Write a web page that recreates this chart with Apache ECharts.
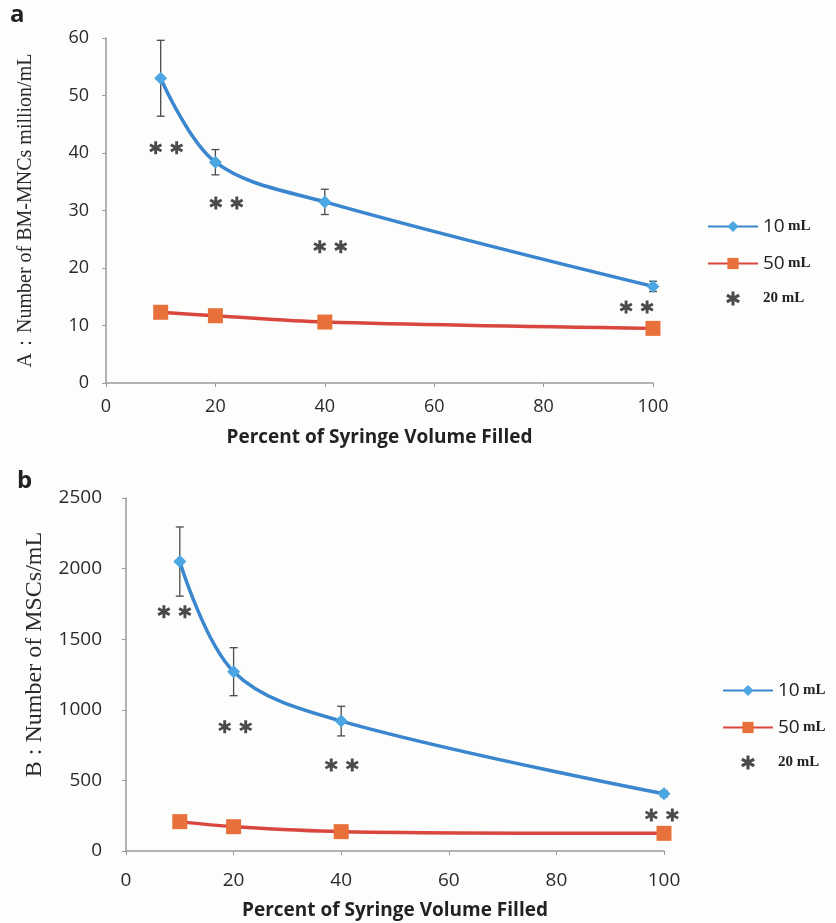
<!DOCTYPE html>
<html>
<head>
<meta charset="utf-8">
<script src="https://cdn.jsdelivr.net/npm/echarts@6/dist/echarts.min.js"></script>
<style>
  html, body { margin: 0; padding: 0; background: #fdfdfb; }
  #chart { width: 836px; height: 923px; }
</style>
</head>
<body>
<div id="chart"></div>
<script>
// x positions (percent of syringe volume filled)
const percentFilled = [10, 20, 40, 100]

// panel a: BM-MNCs million/mL
const mncs10 = [53, 38.4, 31.5, 16.8]
const mncs10Err = [6.6, 2.2, 2.2, 0.9]
const mncs50 = [12.3, 11.7, 10.6, 9.5]
const mncsStars = [[11, 40.9], [22, 31.3], [41, 23.7], [97, 13.2]]

// panel b: MSCs/mL
const mscs10 = [2050, 1270, 920, 405]
const mscs10Err = [245, 170, 105, 20]
const mscs50 = [208, 172, 137, 125]
const mscsStars = [[9, 1695], [20.3, 880], [40.1, 609], [99.6, 255]]

const BLUE_LINE = '#3a86cf'
const BLUE_MARK = '#4ba6e2'
const RED_LINE = '#d8463d'
const RED_MARK = '#e8703a'

// single asterisk, and two side by side
const STAR = 'M3.9,0L6.1,0L6.1,10L3.9,10Z M0.05,3.55L1.15,1.65L9.95,6.45L8.85,8.35Z M8.85,1.65L9.95,3.55L1.15,8.35L0.05,6.45Z'
const STAR2 = STAR + ' M19.9,0L22.1,0L22.1,10L19.9,10Z M16.05,3.55L17.15,1.65L25.95,6.45L24.85,8.35Z M24.85,1.65L25.95,3.55L17.15,8.35L16.05,6.45Z'

const pairs = (xs, ys) => xs.map((x, i) => [x, ys[i]])
const errRows = (xs, ys, es) => xs.map((x, i) => [x, ys[i] - es[i], ys[i] + es[i]])

function errorBar(params, api) {
  const low = api.coord([api.value(0), api.value(1)])
  const high = api.coord([api.value(0), api.value(2)])
  const cap = 4
  const style = { stroke: '#4a4a4a', lineWidth: 1.3 }
  return {
    type: 'group',
    children: [
      { type: 'line', shape: { x1: low[0], y1: low[1], x2: high[0], y2: high[1] }, style },
      { type: 'line', shape: { x1: low[0] - cap, y1: low[1], x2: low[0] + cap, y2: low[1] }, style },
      { type: 'line', shape: { x1: high[0] - cap, y1: high[1], x2: high[0] + cap, y2: high[1] }, style }
    ]
  }
}

function xAxisFor(gridIndex, labelSize, labelMargin, nameGap) {
  return {
    type: 'value', gridIndex, min: 0, max: 100, interval: 20,
    name: 'Percent of Syringe Volume Filled', nameLocation: 'middle', nameGap,
    nameTextStyle: { fontFamily: 'Open Sans', fontWeight: 'bold', fontSize: 19, color: '#222' },
    axisLine: { lineStyle: { color: '#9a9a9a', width: 1.5 } },
    axisTick: { show: true, length: 4, lineStyle: { color: '#9a9a9a' } },
    axisLabel: { fontFamily: 'Open Sans', fontSize: labelSize, color: '#2a2a2a', margin: labelMargin },
    splitLine: { show: false }
  }
}

function yAxisFor(gridIndex, max, interval, name, nameSize, nameGap, namePad, labelSize, labelMargin) {
  return {
    type: 'value', gridIndex, min: 0, max, interval,
    name, nameLocation: 'middle', nameGap,
    nameTextStyle: { fontFamily: 'Liberation Serif', fontSize: nameSize, color: '#2a2a2a', padding: [0, 0, 0, namePad] },
    axisLine: { show: true, lineStyle: { color: '#9a9a9a', width: 1.5 } },
    axisTick: { show: true, length: 4, lineStyle: { color: '#9a9a9a' } },
    axisLabel: {
      fontFamily: 'Open Sans', fontSize: labelSize, color: '#2a2a2a', margin: labelMargin,
      formatter: v => String(v)
    },
    splitLine: { show: false }
  }
}

function seriesFor(idx, v10, e10, v50, stars) {
  return [
    {
      name: '10 mL', type: 'line', xAxisIndex: idx, yAxisIndex: idx,
      data: pairs(percentFilled, v10), smooth: 0.35,
      symbol: 'diamond', symbolSize: 13,
      lineStyle: { color: BLUE_LINE, width: 3.5 },
      itemStyle: { color: BLUE_MARK }, z: 3
    },
    {
      name: '50 mL', type: 'line', xAxisIndex: idx, yAxisIndex: idx,
      data: pairs(percentFilled, v50), smooth: 0.35,
      symbol: 'rect', symbolSize: 15,
      lineStyle: { color: RED_LINE, width: 3.5 },
      itemStyle: { color: RED_MARK }, z: 3
    },
    {
      type: 'custom', xAxisIndex: idx, yAxisIndex: idx,
      data: errRows(percentFilled, v10, e10), renderItem: errorBar, z: 2,
      silent: true
    },
    {
      name: '20 mL', type: 'scatter', xAxisIndex: idx, yAxisIndex: idx,
      data: stars, symbol: 'path://' + STAR2, symbolSize: [34, 13],
      itemStyle: { color: '#1e1e1e' }, silent: true
    }
  ]
}

function legendFor(left, top) {
  return {
    orient: 'vertical', left, top, itemGap: 18, itemWidth: 50, itemHeight: 14,
    data: ['10 mL', '50 mL', { name: '20 mL', icon: 'path://' + STAR }],
    formatter: name => name === '20 mL'
      ? '{s|20 mL}'
      : '{n|' + name.split(' ')[0] + '} {u|mL}',
    textStyle: {
      rich: {
        n: { fontFamily: 'Open Sans', fontSize: 19, color: '#222' },
        u: { fontFamily: 'Liberation Serif', fontWeight: 'bold', fontSize: 15, color: '#222' },
        s: { fontFamily: 'Liberation Serif', fontWeight: 'bold', fontSize: 15, color: '#222' }
      }
    }
  }
}

const chart = echarts.init(document.getElementById('chart'))
chart.setOption({
  backgroundColor: '#fdfdfb',
  animation: false,
  title: [
    { text: 'a', left: 5, top: -2, textStyle: { fontFamily: 'Open Sans', fontWeight: 'bold', fontSize: 24, color: '#222' } },
    { text: 'b', left: 12, top: 464, textStyle: { fontFamily: 'Open Sans', fontWeight: 'bold', fontSize: 24, color: '#222' } }
  ],
  legend: [legendFor(702, 212), legendFor(717, 676)],
  grid: [
    { left: 106, top: 38, width: 547, height: 345 },
    { left: 126, top: 498, width: 538, height: 353 }
  ],
  xAxis: [xAxisFor(0, 18, 15, 45), xAxisFor(1, 19, 20, 50)],
  yAxis: [
    yAxisFor(0, 60, 10, 'A：Number of BM-MNCs million/mL', 20, 70, 0, 18, 17),
    yAxisFor(1, 2500, 500, 'B : Number of MSCs/mL', 24, 79, 40, 19, 24)
  ],
  series: [
    ...seriesFor(0, mncs10, mncs10Err, mncs50, mncsStars),
    ...seriesFor(1, mscs10, mscs10Err, mscs50, mscsStars)
  ]
})
</script>
</body>
</html>
